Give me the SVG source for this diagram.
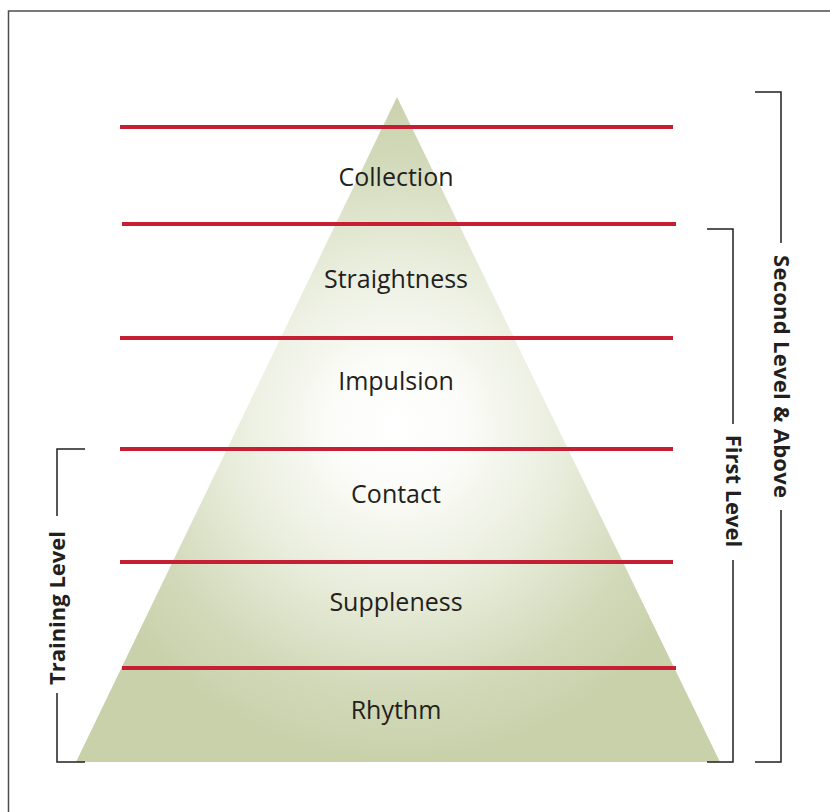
<svg xmlns="http://www.w3.org/2000/svg" width="830" height="812" viewBox="0 0 830 812">
  <defs>
    <radialGradient id="pyramidFill" gradientUnits="userSpaceOnUse" cx="397" cy="425" r="335">
      <stop offset="0" stop-color="#ffffff"/>
      <stop offset="0.2" stop-color="#fbfcf8"/>
      <stop offset="0.5" stop-color="#e9eddc"/>
      <stop offset="0.8" stop-color="#d2d9b9"/>
      <stop offset="1" stop-color="#c9d1ab"/>
    </radialGradient>
    <style>
      .frame { fill: none; stroke: #4d4d4d; stroke-width: 1.5; }
      .tier { stroke: #c41f33; stroke-width: 4; fill: none; }
      .bracket { fill: none; stroke: #231f20; stroke-width: 1.5; }
      .label { font-family: "Open Sans", "Liberation Sans", sans-serif; font-size: 25px; fill: #231f20; text-anchor: middle; }
      .level { font-family: "Open Sans", "Liberation Sans", sans-serif; font-size: 22px; font-weight: bold; fill: #231f20; text-anchor: middle; }
    </style>
  </defs>

  <rect width="830" height="812" fill="#ffffff"/>

  <!-- outer frame (top and left edges) -->
  <path class="frame" d="M8.5 812 V11 H830"/>

  <!-- pyramid body -->
  <g id="pyramid">
    <polygon points="397,97 76,762 720,762" fill="url(#pyramidFill)"/>
  </g>

  <!-- tier dividers -->
  <g id="dividers">
    <line class="tier" x1="120" y1="127" x2="673" y2="127"/>
    <line class="tier" x1="122" y1="224" x2="676" y2="224"/>
    <line class="tier" x1="120" y1="338" x2="673" y2="338"/>
    <line class="tier" x1="120" y1="449" x2="673" y2="449"/>
    <line class="tier" x1="120" y1="562" x2="673" y2="562"/>
    <line class="tier" x1="122" y1="668" x2="676" y2="668"/>
  </g>

  <!-- tier labels -->
  <g id="tier-collection"><text class="label" x="396" y="186">Collection</text></g>
  <g id="tier-straightness"><text class="label" x="396" y="288">Straightness</text></g>
  <g id="tier-impulsion"><text class="label" x="396" y="390">Impulsion</text></g>
  <g id="tier-contact"><text class="label" x="396" y="503">Contact</text></g>
  <g id="tier-suppleness"><text class="label" x="396" y="611">Suppleness</text></g>
  <g id="tier-rhythm"><text class="label" x="396" y="719">Rhythm</text></g>

  <!-- level brackets -->
  <g id="bracket-training">
    <path class="bracket" d="M85 449 H57 V516 M57 693 V762 H85"/>
    <text class="level" transform="translate(65 608) rotate(-90)" x="0" y="0">Training Level</text>
  </g>
  <g id="bracket-first">
    <path class="bracket" d="M707 229 H733 V424 M733 560 V762 H707"/>
    <text class="level" transform="translate(726 491) rotate(90)" x="0" y="0">First Level</text>
  </g>
  <g id="bracket-second">
    <path class="bracket" d="M755 92 H781 V243 M781 510 V762 H755"/>
    <text class="level" transform="translate(774 376.5) rotate(90)" x="0" y="0" textLength="243" lengthAdjust="spacing">Second Level &amp; Above</text>
  </g>
</svg>
